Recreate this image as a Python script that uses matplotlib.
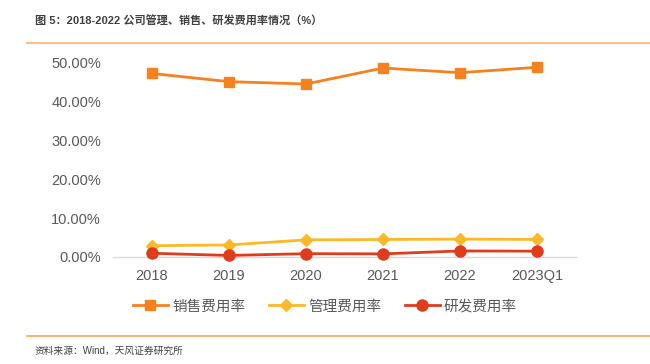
import matplotlib
matplotlib.use('Agg')
import matplotlib.pyplot as plt
from matplotlib.lines import Line2D
from matplotlib.ticker import FuncFormatter

plt.rcParams['font.family'] = ['Liberation Sans', 'Noto Sans CJK SC', 'DejaVu Sans']

# data
years = ['2018', '2019', '2020', '2021', '2022', '2023Q1']
sales_rate = [47.2, 45.1, 44.5, 48.6, 47.4, 48.8]
admin_rate = [2.9, 3.1, 4.4, 4.5, 4.6, 4.5]
rd_rate = [0.95, 0.4, 0.85, 0.8, 1.55, 1.5]

c_sales = '#F5821F'
c_admin = '#FBB929'
c_rd = '#DF3C1C'
c_text = '#595959'

fig = plt.figure(figsize=(6.5, 3.64), dpi=100)
ax = fig.add_axes([0.1746, 0.294, 0.7108, 0.534])

x = range(len(years))
ax.plot(x, sales_rate, color=c_sales, lw=2, marker='s', ms=7, clip_on=False, zorder=3, label='销售费用率')
ax.plot(x, admin_rate, color=c_admin, lw=2, marker='D', ms=6, clip_on=False, zorder=3, label='管理费用率')
ax.plot(x, rd_rate, color=c_rd, lw=2, marker='o', ms=8, clip_on=False, zorder=4, label='研发费用率')

ax.set_xlim(-0.5, len(years) - 0.5)
ax.set_ylim(0, 50)
ax.set_yticks([0, 10, 20, 30, 40, 50])
ax.yaxis.set_major_formatter(FuncFormatter(lambda v, p: '%.2f%%' % v))
ax.set_xticks(list(x))
ax.set_xticklabels(years)
for s in ['top', 'right', 'left']:
    ax.spines[s].set_visible(False)
ax.spines['bottom'].set_color('#D9D9D9')
ax.spines['bottom'].set_linewidth(1)
ax.tick_params(axis='both', length=0, labelsize=10.5, labelcolor=c_text)
ax.tick_params(axis='x', pad=9)
ax.tick_params(axis='y', pad=9)

leg = fig.legend(loc='center', bbox_to_anchor=(0.5, 0.158), ncol=3, frameon=False,
                 fontsize=10.5, handlelength=2.4, columnspacing=1.6, handletextpad=0.3)
for t in leg.get_texts():
    t.set_color(c_text)

# title, rules, source
fig.text(35 / 650, 1 - 20 / 364, '图 5：2018-2022 公司管理、销售、研发费用率情况（%）',
         fontsize=8, color='#404040', fontweight='bold', va='center', ha='left')
fig.add_artist(Line2D([27 / 650, 1], [1 - 43 / 364, 1 - 43 / 364], color='#F9BE8A', lw=1.5))
fig.add_artist(Line2D([27 / 650, 1], [1 - 336 / 364, 1 - 336 / 364], color='#F7A560', lw=1.2))
fig.text(35 / 650, 1 - 351 / 364, '资料来源：Wind，天风证券研究所',
         fontsize=7, color='#404040', va='center', ha='left')

fig.savefig('out.png', dpi=100)
